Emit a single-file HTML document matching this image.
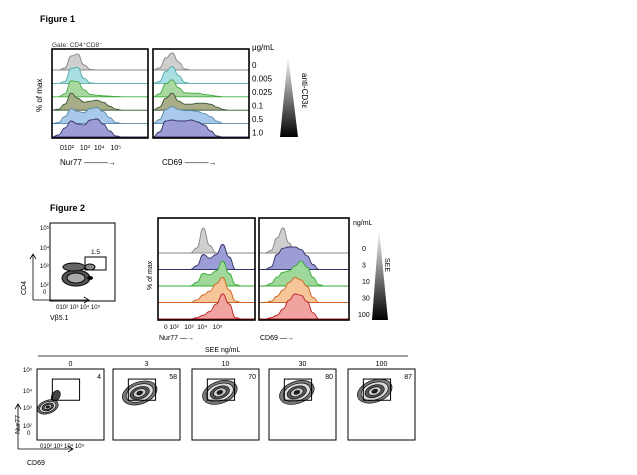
<!DOCTYPE html>
<html><head><meta charset="utf-8"><style>
body{margin:0;background:#fff;}
svg{display:block;font-family:"Liberation Sans",sans-serif;}
</style></head><body>
<svg id="fig" width="637" height="475" viewBox="0 0 637 475" xmlns="http://www.w3.org/2000/svg">
<defs>
<linearGradient id="tri" x1="0" y1="0" x2="0" y2="1"><stop offset="0" stop-color="#fff"/><stop offset="1" stop-color="#000"/></linearGradient>
</defs>
<text x="40" y="22" font-size="9" font-weight="bold">Figure 1</text>
<text x="52" y="47" font-size="6.5" fill="#333">Gate: CD4⁺CD8⁻</text>
<text x="252" y="50" font-size="8">μg/mL</text>
<polygon points="288,55 298,137 280,137" fill="url(#tri)"/>
<text transform="translate(302,73) rotate(90)" font-size="8">anti-CD3ε</text>
<text transform="translate(42,112) rotate(-90)" font-size="8">% of max</text>
<text x="60" y="150" font-size="7">010² &#160; 10³ &#160;10⁴ &#160; 10⁵</text>
<text x="60" y="165" font-size="8">Nur77 ———→</text>
<text x="162" y="165" font-size="8">CD69 ———→</text>

<text x="50" y="211" font-size="9" font-weight="bold">Figure 2</text>
<text x="353" y="225" font-size="7">ng/mL</text>
<polygon points="379,228 388,320 372,320" fill="url(#tri)"/>
<text transform="translate(385,258) rotate(90)" font-size="7">SEE</text>
<text transform="translate(152,290) rotate(-90)" font-size="7">% of max</text>
<text x="164" y="329" font-size="6.5">0 10² &#160; 10³ &#160;10⁴ &#160; 10⁵</text>
<text x="159" y="340" font-size="7">Nur77 —→</text>
<text x="260" y="340" font-size="7">CD69 —→</text>

<g>
<rect x="50" y="223" width="65" height="78" fill="none" stroke="#000" stroke-width="1"/>
<text x="40" y="230" font-size="6">10⁵</text><text x="40" y="250" font-size="6">10⁴</text><text x="40" y="268" font-size="6">10³</text><text x="40" y="287" font-size="6">10²</text><text x="43" y="294" font-size="6">0</text>
<text x="56" y="309" font-size="6">010² 10³ 10⁴ 10⁵</text>
<path d="M33,300 V255 M30,259 L33,254 L36,259 M33,300 H88 M84,297 L89,300 L84,303" fill="none" stroke="#000" stroke-width="0.8"/>
<text transform="translate(26,295) rotate(-90)" font-size="7">CD4</text>
<text x="50" y="320" font-size="7">Vβ5.1</text>
<ellipse cx="76" cy="278" rx="14" ry="8" fill="#555" stroke="#000"/>
<ellipse cx="76" cy="278" rx="9" ry="5" fill="#aaa" stroke="#000"/>
<ellipse cx="74" cy="267" rx="11" ry="4" fill="#666" stroke="#000"/>
<ellipse cx="90" cy="267" rx="5" ry="3" fill="#888" stroke="#000"/>
<ellipse cx="90" cy="278" rx="3" ry="2" fill="#000"/>
<rect x="85" y="257" width="21" height="13" fill="none" stroke="#000"/>
<text x="91" y="254" font-size="6.5">1.5</text>
</g>

<line x1="38" y1="356" x2="408" y2="356" stroke="#000" stroke-width="0.8"/>
<text x="205" y="352" font-size="7">SEE ng/mL</text>
<text transform="translate(20,434) rotate(-90)" font-size="7">Nur77</text>
<text x="27" y="465" font-size="7">CD69</text>
<path d="M18,449 V405 M15,409 L18,404 L21,409 M18,449 H72 M68,446 L73,449 L68,452" fill="none" stroke="#000" stroke-width="0.8"/>
<text x="23" y="372" font-size="6">10⁵</text>
<text x="23" y="393" font-size="6">10⁴</text><text x="23" y="410" font-size="6">10³</text><text x="23" y="428" font-size="6">10²</text><text x="27" y="435" font-size="6">0</text>
<text x="40" y="448" font-size="6">010² 10³ 10⁴ 10⁵</text>
<g id="plots"></g>
</svg>
<script>
// Figure 1 values (density per bin, 16 bins across the axis)
const fig1Doses = ["0","0.005","0.025","0.1","0.5","1.0"];
const fig1Nur77 = [
 [0,0,.1,.7,.8,.25,.03,0,0,0,0,0,0,0,0,0],
 [0,0,.1,.75,.8,.25,.03,0,0,0,0,0,0,0,0,0],
 [0,0,.15,.8,.75,.35,.12,.08,.05,.03,.02,0,0,0,0,0],
 [0,.05,.3,.85,.6,.4,.45,.5,.4,.2,.05,0,0,0,0,0],
 [0,.05,.35,.75,.6,.55,.75,.8,.6,.3,.05,0,0,0,0,0],
 [0,.1,.45,.8,.65,.6,.85,.9,.65,.3,.05,0,0,0,0,0]];
const fig1CD69 = [
 [0,.1,.6,.85,.4,.05,0,0,0,0,0,0,0,0,0,0],
 [0,.1,.6,.85,.4,.05,0,0,0,0,0,0,0,0,0,0],
 [0,.15,.65,.85,.45,.2,.18,.18,.12,.08,.03,0,0,0,0,0],
 [0,.15,.6,.85,.45,.3,.3,.35,.35,.3,.15,.03,0,0,0,0],
 [0,.2,.7,.85,.7,.65,.65,.6,.5,.35,.12,0,0,0,0,0],
 [0,.25,.8,.85,.8,.8,.85,.75,.6,.3,.05,0,0,0,0,0]];
// Figure 2 values
const fig2Doses = ["0","3","10","30","100"];
const fig2Nur77 = [
 [0,0,0,0,0,0,.2,1,.3,0,0,0,0,0,0,0],
 [0,0,0,0,0,0,.15,.6,.45,.6,1,.5,0,0,0,0],
 [0,0,0,0,0,0,.15,.5,.45,.6,1,.5,.05,0,0,0],
 [0,0,0,0,0,0,.1,.3,.45,.75,1,.5,.05,0,0,0],
 [0,0,0,0,0,0,.05,.15,.3,.6,1,.6,.05,0,0,0]];
const fig2CD69 = [
 [0,0,.1,.6,1,.4,0,0,0,0,0,0,0,0,0,0],
 [0,0,.1,.6,.85,.9,.9,.8,.55,.2,0,0,0,0,0,0],
 [0,0,.1,.35,.55,.6,.8,1,.75,.35,.05,0,0,0,0,0],
 [0,0,.05,.25,.5,.8,1,.9,.65,.2,0,0,0,0,0,0],
 [0,0,.05,.15,.4,.75,1,.95,.7,.25,0,0,0,0,0,0]];
// Figure 3 values
const fig3Doses = ["0","3","10","30","100"];
const fig3Percent = [4,58,70,80,87];
const fig3CD69Center = [0.6,2.0,2.1,2.1,2.0];   // log10 units
const fig3Nur77Center = [2.4,3.55,3.6,3.6,3.7];

const fig1Fill = ["#cfcfcf","#a9dfe2","#a9d9a0","#a8ad88","#a9c9ea","#9c9cd6"];
const fig1Stroke = ["#888","#5aa","#4a4","#353","#58a","#336"];
const fig2Fill = ["#cfcfcf","#9c9cd6","#9fd89a","#f6c598","#f1a3a0"];
const fig2Stroke = ["#888","#336","#3a3","#c62","#b22"];

const NS="http://www.w3.org/2000/svg";
const root=document.getElementById("plots");
function mk(tag,attrs,parent){const e=document.createElementNS(NS,tag);for(const k in attrs)e.setAttribute(k,attrs[k]);(parent||root).appendChild(e);return e;}

let clipN=0;
function histPanel(x0,x1,yTop,yBot,firstBase,rows,fills,strokes,amp,name){
  const g=mk("g",{});
  
  
  const cp=mk("clipPath",{id:"cp"+clipN},g);
  mk("rect",{x:x0,y:yTop,width:x1-x0,height:yBot-yTop},cp);
  const inner=mk("g",{"clip-path":"url(#cp"+clipN+")"},g);
  clipN++;
  const n=rows.length, step=(yBot-1-firstBase)/(n-1);
  rows.forEach((vals,i)=>{
    const base=firstBase+step*i;
    const bx=v=>x0+(x1-x0)*(v)/(vals.length-1);
    let pts=vals.map((v,j)=>[bx(j),base-v*amp]);
    let d="M"+x0+","+base+" L"+pts[0][0]+","+pts[0][1];
    for(let j=1;j<pts.length;j++){const p=pts[j-1],q=pts[j],mx=(p[0]+q[0])/2;d+=` C${mx},${p[1]} ${mx},${q[1]} ${q[0]},${q[1]}`;}
    const path=mk("path",{d:d+` L${x1},${base} Z`,fill:fills[i],stroke:strokes[i],"stroke-width":"0.9"},inner);
    
    
  });
  const box=mk("rect",{x:x0,y:yTop,width:x1-x0,height:yBot-yTop,fill:"none",stroke:"#000","stroke-width":"1.6"},g);
  
  
}
histPanel(52,148,49,138,70,fig1Nur77,fig1Fill,fig1Stroke,20,"fig1-nur77-histogram");
histPanel(153,249,49,138,70,fig1CD69,fig1Fill,fig1Stroke,20,"fig1-cd69-histogram");
histPanel(158,255,218,320,253,fig2Nur77,fig2Fill,fig2Stroke,25,"fig2-nur77-histogram");
histPanel(259,349,218,320,253,fig2CD69,fig2Fill,fig2Stroke,25,"fig2-cd69-histogram");

fig1Doses.forEach((t,i)=>{const e=mk("text",{x:252,y:68+i*13.5,"font-size":"8"});e.textContent=t;

});
fig2Doses.forEach((t,i)=>{const e=mk("text",{x:t.length>2?358:362,y:251+i*16.5,"font-size":"7"});e.textContent=t;

});

// Figure 3 contour panels
const fig3X=[37,113,192,269,348];
fig3Doses.forEach((t,i)=>{
  const x0=fig3X[i], y0=369, w=67, h=71;
  const g=mk("g",{});
  
  
  const fr=mk("rect",{x:x0,y:y0,width:w,height:h,fill:"#fff",stroke:"#000","stroke-width":"1"},g);
  
  
  const lx=v=>x0+4+(w-8)*v/5.2, ly=v=>y0+h-4-(h-8)*v/5.2;
  const cx=lx(fig3CD69Center[i]), cy=ly(fig3Nur77Center[i]);
  const s=i?1:0.6;
  if(!i){const ext=mk("ellipse",{cx:lx(1.3),cy:ly(3.3),rx:4,ry:6,fill:"#444",stroke:"#000","stroke-width":"0.6",transform:`rotate(30 ${lx(1.3)} ${ly(3.3)})`},g);
    
    }
  [[18,11,"#777"],[14,8.5,"#ddd"],[10,6,"#555"],[6.5,4,"#ccc"],[3,1.8,"#222"]].forEach((r,k)=>{
    const el=mk("ellipse",{cx:cx,cy:cy,rx:r[0]*s,ry:r[1]*s,fill:r[2],stroke:"#000","stroke-width":"0.6",transform:`rotate(-20 ${cx} ${cy})`},g);
    
    
  });
  const gate=mk("rect",{x:lx(1.0),y:ly(4.7),width:lx(3.4)-lx(1.0),height:ly(2.95)-ly(4.7),fill:"none",stroke:"#000","stroke-width":"1"},g);
  
  
  const pl=mk("text",{x:x0+w-3,y:y0+10,"font-size":"7","text-anchor":"end"},g);pl.textContent=fig3Percent[i];
  
  
  const dl=mk("text",{x:x0+w/2,y:366,"font-size":"7","text-anchor":"middle"},g);dl.textContent=t;
  
  
});
</script>
</body></html>
